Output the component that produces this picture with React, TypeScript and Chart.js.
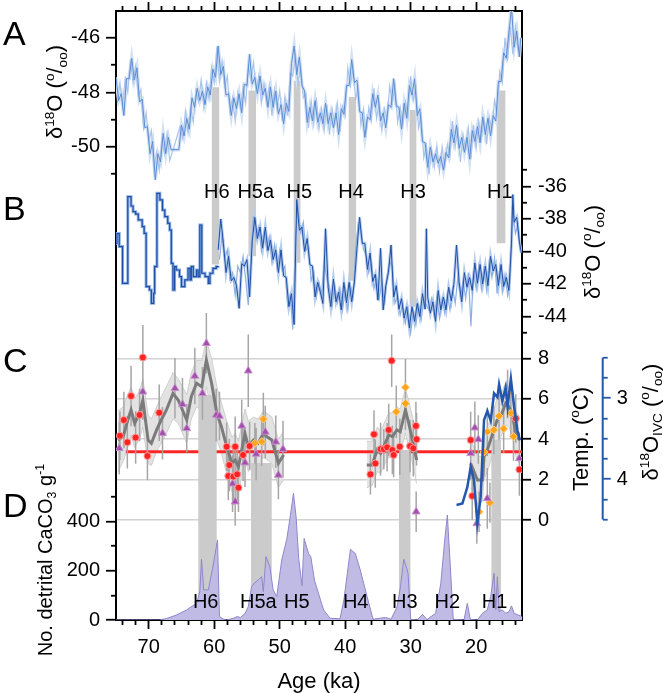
import React, { useEffect, useRef } from "react";
import { Chart, registerables } from "chart.js";

Chart.register(...registerables);

const FONT = "'Liberation Sans', Arial, Helvetica, sans-serif";

// ---------------- DATA ----------------
// Panel A: ice-core δ18O (‰) [age ka, value] — darker trace
const iceA: [number, number][] = [
  [75.0,-47.45],[74.6,-48.3],[74.2,-48.05],[73.8,-48.85],[73.4,-47.5],[73.0,-47.5],[72.6,-46.75],[72.2,-47.55],[71.8,-47.1],[71.4,-48.35],
  [71.0,-48.25],[70.6,-49.3],[70.2,-49.25],[69.8,-50.25],[69.4,-49.8],[69.0,-51.2],[68.6,-50.25],[68.2,-50.55],[67.8,-49.5],[67.4,-50.25],
  [67.0,-49.65],[66.6,-50.1],[65.4,-50.1],[65.0,-49.2],[64.6,-49.6],[64.2,-48.95],[63.8,-49.35],[63.4,-48.2],[63.0,-48.55],[62.6,-47.85],
  [62.2,-48.3],[61.8,-47.95],[61.4,-48.45],[61.0,-47.8],[60.6,-48.1],[60.2,-47.15],[59.8,-47.45],[59.4,-46.3],[59.0,-47.35],[58.6,-47.05],
  [58.2,-48.1],[57.8,-48.05],[57.4,-48.85],[57.0,-48.2],[56.6,-48.6],[56.2,-48.05],[55.8,-48.75],[55.4,-47.7],[55.0,-47.75],[54.6,-46.6],
  [54.2,-47.7],[53.8,-47.45],[53.4,-48.05],[53.0,-47.4],[52.6,-48.1],[52.2,-47.85],[51.8,-48.55],[51.4,-47.8],[51.0,-48.55],[50.6,-47.95],
  [50.2,-48.8],[49.8,-48.45],[49.4,-49.15],[49.0,-48.4],[48.6,-48.7],[48.2,-46.95],[47.8,-46.3],[47.4,-47.35],[47.0,-46.7],[46.6,-47.75],
  [46.2,-47.95],[45.8,-49.1],[45.4,-48.55],[45.0,-49.05],[44.6,-48.3],[44.2,-49.1],[43.8,-48.75],[43.4,-49.15],[43.0,-48.4],[42.6,-49.15],
  [42.2,-48.75],[41.8,-49.3],[41.4,-48.75],[41.0,-49.55],[40.6,-48.6],[40.2,-48.8],[39.8,-47.75],[39.4,-47.75],[39.0,-46.8],[38.6,-47.65],
  [38.2,-47.55],[37.8,-48.7],[37.4,-48.75],[37.0,-49.65],[36.6,-48.9],[36.2,-49.0],[35.8,-48.05],[35.4,-48.55],[35.0,-48.1],[34.6,-49.05],
  [34.2,-48.75],[33.8,-49.3],[33.4,-48.45],[33.0,-48.55],[32.6,-47.5],[32.2,-48.5],[31.8,-48.55],[31.4,-49.35],[31.0,-48.4],[30.6,-48.95],
  [30.2,-47.75],[29.8,-48.1],[29.4,-47.5],[29.0,-48.85],[28.6,-48.6],[28.2,-49.8],[27.8,-49.85],[27.4,-50.75],[27.0,-50.0],[26.6,-50.55],
  [26.2,-50.25],[25.8,-50.6],[25.4,-50.35],[25.0,-50.85],[24.6,-50.2],[24.2,-50.4],[23.8,-49.35],[23.4,-49.85],[23.0,-49.2],[22.6,-50.05],
  [22.2,-49.65],[21.8,-50.2],[21.4,-49.65],[21.0,-50.45],[20.6,-49.4],[20.2,-49.8],[19.8,-49.25],[19.4,-49.85],[19.0,-48.9],[18.6,-49.55],
  [18.2,-48.95],[17.8,-49.6],[17.4,-48.85],[17.0,-49.05],[16.6,-47.6],[16.2,-47.6],[15.8,-46.55],[15.4,-46.75],[15.0,-45.8],[14.6,-44.9],
  [14.2,-46.35],[13.8,-45.75],[13.4,-46.7],[13.2,-46.0],
];
// Panel A: lighter companion trace
const iceALight: [number, number][] = [
  [74.8,-48.4],[74.4,-47.65],[74.0,-48.5],[73.6,-47.5],[73.2,-48.0],[72.8,-46.8],[72.4,-47.65],[72.0,-47.05],[71.6,-48.15],[71.2,-47.9],
  [70.8,-49.3],[70.4,-48.75],[70.0,-49.8],[69.6,-49.4],[69.2,-50.8],[68.8,-50.2],[68.4,-50.85],[68.0,-49.75],[67.6,-50.25],[67.2,-49.5],
  [66.8,-50.5],[65.2,-49.25],[64.8,-49.7],[64.4,-48.7],[64.0,-49.5],[63.6,-48.55],[63.2,-49.1],[62.8,-47.95],[62.4,-48.35],[62.0,-47.55],
  [61.6,-48.55],[61.2,-47.65],[60.8,-48.25],[60.4,-47.1],[60.0,-47.65],[59.6,-46.35],[59.2,-47.6],[58.8,-46.85],[58.4,-47.8],[58.0,-47.4],
  [57.6,-48.7],[57.2,-48.2],[56.8,-49.05],[56.4,-48.0],[56.0,-48.6],[55.6,-47.8],[55.2,-48.4],[54.8,-47.0],[54.4,-47.55],[54.0,-46.9],
  [53.6,-48.0],[53.2,-47.4],[52.8,-48.4],[52.4,-47.65],[52.0,-48.4],[51.6,-47.75],[51.2,-48.85],[50.8,-47.9],[50.4,-48.6],[50.0,-47.95],
  [49.6,-49.05],[49.2,-48.15],[48.8,-48.85],[48.4,-47.3],[48.0,-47.4],[47.6,-46.6],[47.2,-47.65],[46.8,-47.05],[46.4,-48.2],[46.0,-48.05],
  [45.6,-49.3],[45.2,-48.3],[44.8,-49.15],[44.4,-48.2],[44.0,-49.35],[43.6,-48.6],[43.2,-49.4],[42.8,-48.45],[42.4,-49.55],[42.0,-48.6],
  [41.6,-49.15],[41.2,-48.4],[40.8,-49.45],[40.4,-48.5],[40.0,-48.85],[39.6,-47.1],[39.2,-47.75],[38.8,-47.1],[38.4,-48.25],[38.0,-47.8],
  [37.6,-49.2],[37.2,-48.6],[36.8,-49.5],[36.4,-48.55],[36.0,-49.05],[35.6,-47.85],[35.2,-48.95],[34.8,-48.4],[34.4,-49.4],[34.0,-48.6],
  [33.6,-49.0],[33.2,-47.75],[32.8,-48.4],[32.4,-47.75],[32.0,-49.1],[31.6,-48.55],[31.2,-49.2],[30.8,-48.35],[30.4,-48.9],[30.0,-47.4],
  [29.6,-48.3],[29.2,-47.8],[28.8,-49.3],[28.4,-48.85],[28.0,-50.4],[27.6,-49.95],[27.2,-51.0],[26.8,-50.1],[26.4,-50.75],[26.0,-49.95],
  [25.6,-50.9],[25.2,-50.0],[24.8,-50.75],[24.4,-49.9],[24.0,-50.35],[23.6,-49.05],[23.2,-50.0],[22.8,-49.3],[22.4,-50.55],[22.0,-49.55],
  [21.6,-50.1],[21.2,-49.3],[20.8,-50.45],[20.4,-49.2],[20.0,-50.05],[19.6,-49.05],[19.2,-49.7],[18.8,-48.95],[18.4,-49.9],[18.0,-48.9],
  [17.6,-49.4],[17.2,-48.3],[16.8,-48.8],[16.4,-47.25],[16.0,-47.65],[15.6,-46.0],[15.2,-46.85],[14.8,-45.6],[14.4,-46.6],[14.0,-45.6],
  [13.6,-46.5],
];

// Panel B: low-resolution (stepped) part and high-resolution parts [age ka, δ18O ‰]
const iceBStep: [number, number][] = [
  [75.0,-39.5],[74.85,-38.9],[74.5,-39.7],[74.0,-41.96],[73.2,-36.63],[72.7,-37.2],[72.4,-37.55],[72.0,-37.7],[71.6,-38.06],[71.0,-38.47],
  [70.7,-38.88],[70.4,-42.16],[69.9,-42.37],[69.6,-43.19],[69.25,-42.57],[69.1,-40.93],[68.75,-36.42],[68.3,-36.83],[67.9,-37.45],[67.55,-37.86],
  [67.1,-38.27],[66.8,-38.68],[66.55,-40.73],[66.3,-42.37],[66.05,-40.93],[65.8,-41.14],[65.3,-41.55],[65.0,-42.16],[64.5,-41.75],[64.0,-41.04],
  [63.7,-41.75],[63.5,-40.93],[63.2,-41.55],[62.7,-41.14],[62.45,-41.55],[62.2,-38.37],[61.9,-41.34],[61.4,-41.55],[60.9,-41.96],[60.65,-41.34],
  [60.2,-41.04],[59.7,-40.93],[59.4,-40.9],
];
const iceB: [number, number][] = [
  [59.4,-39.9],[59.0,-38.0],[58.6,-39.5],[58.2,-41.3],[57.8,-40.3],[57.4,-41.8],[57.0,-41.6],[56.6,-42.1],[56.2,-43.5],[55.8,-40.75],
  [55.4,-40.9],[55.0,-40.5],[54.6,-42.8],[54.2,-39.4],[53.8,-37.9],[53.4,-39.2],[53.0,-38.5],[52.6,-39.8],[52.2,-38.5],[51.8,-39.95],
  [51.4,-39.3],[51.0,-40.5],[50.6,-39.9],[50.2,-41.3],[49.8,-39.9],[49.4,-41.5],[49.0,-41.6],[48.6,-43.4],[48.2,-42.6],[47.8,-44.5],
  [47.4,-36.8],[47.0,-38.7],[46.6,-38.5],[46.2,-40.0],[45.8,-39.2],[45.4,-40.8],[45.0,-40.9],[44.6,-42.8],[44.2,-41.9],[43.8,-42.5],
  [43.4,-43.2],[43.0,-38.6],[42.6,-42.2],[42.2,-43.4],[41.8,-41.7],[41.4,-43.1],[41.0,-42.5],[40.6,-43.6],[40.2,-41.9],[39.8,-43.15],
  [39.4,-41.9],[39.0,-43.1],[38.6,-41.9],[38.2,-39.8],[37.8,-37.9],[37.4,-39.5],[37.0,-39.5],[36.6,-41.1],[36.2,-40.1],[35.8,-41.85],
  [35.4,-41.4],[35.0,-43.0],[34.6,-39.8],[34.2,-43.6],[33.8,-42.1],[33.4,-41.3],[33.0,-39.6],[32.6,-42.8],[32.2,-42.1],[31.8,-43.55],
  [31.4,-42.9],[31.0,-44.1],[30.6,-43.4],[30.2,-44.7],[29.8,-43.4],[29.4,-44.3],[29.0,-43.2],[28.6,-44.0],[28.2,-42.6],[27.8,-43.55],
  [27.6,-38.6],[27.4,-42.8],[27.0,-43.8],[26.6,-43.1],[26.2,-44.3],[25.8,-42.4],[25.4,-43.6],[25.0,-42.8],[24.6,-43.6],[24.2,-42.2],
  [23.8,-43.05],[23.4,-42.0],[23.0,-39.6],[22.6,-41.9],[22.2,-43.1],[21.8,-41.3],[21.4,-42.2],[21.0,-41.6],[20.6,-42.4],[20.2,-40.7],
  [19.8,-41.95],[19.4,-40.8],[19.0,-42.0],[18.6,-40.9],[18.2,-42.1],[17.8,-40.3],[17.4,-41.2],[17.0,-40.8],[16.6,-42.1],[16.2,-40.8],
  [15.8,-42.15],[15.4,-41.6],[15.0,-42.4],[14.6,-39.5],[14.4,-36.5],[14.2,-38.2],[13.8,-37.9],[13.4,-39.4],[13.1,-40.1],
];
const iceBLight: [number, number][] = [
  [59.2,-40.5],[58.8,-39.0],[58.4,-40.5],[58.0,-39.9],[57.6,-41.7],[57.2,-41.3],[56.8,-42.7],[56.4,-40.9],[56.0,-41.3],[55.6,-40.3],
  [55.2,-41.7],[54.8,-43.3],[54.4,-40.3],[54.0,-37.8],[53.6,-39.25],[53.2,-38.5],[52.8,-39.95],[52.4,-38.8],[52.0,-39.85],[51.6,-39.1],
  [51.2,-40.65],[50.8,-39.6],[50.4,-41.05],[50.0,-39.95],[49.6,-41.2],[49.2,-40.9],[48.8,-43.3],[48.4,-42.65],[48.0,-44.8],[47.6,-39.0],
  [47.2,-37.3],[46.8,-38.8],[46.4,-38.2],[46.0,-39.95],[45.6,-39.7],[45.2,-41.8],[44.8,-41.25],[44.4,-42.8],[44.0,-41.9],[43.6,-42.6],
  [43.2,-40.6],[42.8,-41.7],[42.4,-42.15],[42.0,-43.4],[41.6,-42.1],[41.2,-43.15],[40.8,-42.25],[40.4,-43.6],[40.0,-42.35],[39.6,-43.6],
  [39.2,-42.05],[38.8,-42.8],[38.4,-39.8],[38.0,-38.3],[37.6,-38.8],[37.2,-39.9],[36.8,-40.2],[36.4,-41.3],[36.0,-40.6],[35.6,-42.3],
  [35.2,-41.6],[34.8,-42.9],[34.4,-41.8],[34.0,-43.3],[33.6,-41.5],[33.2,-40.6],[32.8,-40.9],[32.4,-43.2],[32.0,-42.7],[31.6,-43.9],
  [31.2,-43.2],[30.8,-44.4],[30.4,-43.5],[30.0,-45.0],[29.6,-43.7],[29.2,-44.5],[28.8,-43.3],[28.4,-44.2],[28.0,-43.0],[27.2,-43.6],
  [26.8,-42.9],[26.4,-44.0],[26.0,-42.8],[25.6,-44.1],[25.2,-42.9],[24.8,-43.8],[24.4,-42.6],[24.0,-43.6],[23.6,-42.3],[23.2,-43.2],
  [22.8,-41.6],[22.4,-42.8],[22.0,-41.8],[21.6,-42.9],[21.2,-41.3],[20.8,-44.6],[20.4,-41.2],[20.0,-42.3],[19.6,-40.9],[19.2,-42.3],
  [18.8,-41.0],[18.4,-42.4],[18.0,-40.6],[17.6,-41.6],[17.2,-40.4],[16.8,-42.6],[16.4,-41.0],[16.0,-42.5],[15.6,-41.4],[15.2,-42.7],
  [14.8,-41.8],[14.5,-37.2],[14.3,-37.8],[14.0,-38.9],[13.6,-38.3],[13.3,-39.9],
];

// Panel C: temperature stack [age ka, mean °C, lower, upper]
const tempLeft: [number, number, number, number][] = [
  [74.7,3.96,2.4,5.4],[73.9,4.13,2.9,5.6],[73.2,4.95,3.6,6.2],[72.7,5.45,4.2,6.6],[72.15,4.79,3.6,6.0],[71.4,5.28,4.0,6.4],
  [70.9,5.94,4.6,7.0],[70.1,3.96,2.8,5.2],[69.6,3.8,2.7,5.0],[68.8,4.46,3.4,5.6],[68.1,4.95,3.8,6.1],[67.3,5.45,4.3,6.6],
  [66.3,6.27,5.0,7.3],[65.5,5.94,4.8,7.0],[64.2,4.95,3.8,6.2],[63.5,6.11,5.0,7.3],[62.7,6.77,5.6,7.9],[61.9,6.6,5.5,7.9],
  [61.2,7.92,6.6,8.9],[60.4,6.77,5.4,8.0],[59.6,5.28,4.0,6.6],[58.9,4.62,3.3,5.8],[58.1,3.63,2.3,4.9],[57.3,2.81,1.4,4.1],
  [56.8,2.97,1.5,4.3],[56.3,2.64,1.3,3.9],[55.8,3.47,2.2,4.7],[55.3,4.29,3.0,5.5],[54.8,3.63,2.4,4.9],[54.0,3.96,2.8,5.1],
  [53.3,3.8,2.7,5.0],[52.5,4.29,3.1,5.4],[52.0,4.13,3.0,5.3],[51.2,3.96,2.8,5.1],[50.2,2.81,1.6,4.0],[49.4,3.22,2.0,4.4],
];
const tempMid: [number, number, number, number][] = [
  [36.7,2.72,1.6,3.9],[35.9,2.72,1.7,3.9],[35.1,3.47,2.4,4.6],[34.6,3.3,2.3,4.4],[33.9,3.8,2.8,4.9],[33.35,4.21,3.1,5.3],
  [32.8,4.13,3.1,5.3],[32.1,4.46,3.4,5.6],[31.6,4.37,3.3,5.5],[30.8,5.45,4.3,6.5],[30.3,4.79,3.6,5.9],[29.5,3.63,2.5,4.8],
  [29.1,2.97,1.8,4.2],
];
const tempRight: [number, number, number, number][] = [
  [20.85,2.81,1.6,4.0],[19.8,1.98,0.8,3.2],[19.05,1.98,0.9,3.1],[18.8,3.14,2.0,4.3],[18.3,3.47,2.4,4.6],[17.8,3.96,2.9,5.0],
  [17.3,4.46,3.4,5.5],[16.8,4.95,3.9,6.0],[16.25,5.12,4.1,6.2],[15.5,5.78,4.7,6.8],[15.0,5.61,4.6,6.6],[14.5,5.28,4.2,6.4],
  [13.95,4.29,3.2,5.4],[13.4,3.96,2.8,5.1],
];

// Panel C: individual temperature estimates [age ka, °C, ±error]
const redPts: [number, number, number][] = [
  [74.4,4.17,1.2],[73.8,4.95,1.4],[73.27,3.85,1.3],[72.7,6.14,1.5],[72.0,4.08,1.3],[71.4,5.2,1.3],[70.9,8.05,1.6],[70.2,3.17,1.2],
  [68.4,5.31,1.4],[58.1,3.63,1.2],[56.8,3.63,1.5],[57.7,2.72,1.3],[57.85,2.18,1.2],[57.09,2.15,1.4],[56.5,2.26,1.3],[56.3,1.6,1.2],
  [55.6,3.22,1.3],[54.6,3.66,1.2],[32.9,7.89,1.3],[36.15,2.26,1.0],[35.4,2.8,1.2],[35.6,4.24,1.2],[34.6,3.51,1.3],[34.1,3.51,1.0],
  [33.6,3.6,1.2],[33.35,4.46,1.3],[32.8,3.47,1.2],[32.6,3.22,1.1],[31.66,3.63,1.4],[30.1,3.66,1.3],[29.6,3.55,1.4],[29.2,4.66,1.2],
  [29.1,4.0,1.3],[20.84,3.96,1.4],[20.6,1.19,1.2],[13.4,2.5,1.3],[13.95,5.03,1.2],
];
const purplePts: [number, number, number][] = [
  [74.5,3.55,1.3],[70.9,6.35,1.4],[67.9,4.3,1.3],[66.0,6.52,1.5],[64.85,5.73,1.3],[64.2,4.54,1.2],[62.96,7.13,1.4],[61.8,6.27,1.3],
  [61.2,8.75,1.5],[59.7,5.2,1.3],[59.2,5.15,1.2],[57.2,1.8,1.4],[56.8,0.91,1.2],[55.8,4.66,1.3],[54.8,7.39,1.8],[55.3,2.84,1.2],
  [53.6,3.27,1.3],[52.2,4.36,1.3],[50.6,3.87,1.3],[50.2,2.23,1.2],[49.5,3.51,1.4],[29.16,0.41,1.0],[20.84,3.3,1.3],[20.2,4.57,1.3],
  [19.67,3.99,1.2],[18.3,1.07,1.5],[13.4,3.05,1.3],[19.9,-0.17,1.0],
];
const orangePts: [number, number, number][] = [
  [52.5,5.0,1.3],[52.75,3.88,1.2],[53.8,3.8,1.0],[32.2,5.36,1.3],[30.8,6.57,1.4],[30.8,5.77,1.3],[19.56,0.41,1.0],[17.9,0.86,1.0],
  [18.3,4.37,1.2],[17.3,4.46,1.2],[16.5,5.15,1.2],[15.8,4.52,1.2],[15.2,6.24,1.2],[14.7,5.28,1.2],[14.3,4.13,1.2],[18.8,3.37,1.2],
];
const thresholdT = 3.38;
const thresholdAges = [73.5, 13];

// Panel C: δ18O IVC (‰, reversed axis) [age ka, value]
const ivc: [number, number][] = [
  [23.0,4.32],[22.1,4.3],[21.35,4.1],[20.84,3.85],[20.33,4.01],[19.82,4.55],[19.31,4.22],[18.8,3.27],[18.29,3.16],[17.78,3.28],
  [17.27,2.94],[16.76,2.99],[16.5,2.83],[16.0,3.04],[15.5,2.87],[15.2,3.11],[14.7,2.76],[14.2,3.11],[13.7,3.4],[13.3,3.52],
];

// Panel D: number of detrital CaCO3 grains per g [age ka, count]
const detrital: [number, number][] = [
  [75,0],[70,0],[68.3,0],[67.3,6],[65.8,20],[64.2,41],[62.7,68],[62.2,115],[61.94,246],[61.6,122],[60.9,122],[60.15,223],[59.5,325],
  [59.2,14],[58.6,4],[58.1,0],[57.1,7],[56.5,14],[56.0,10],[55.3,27],[54.8,54],[54.3,135],[53.9,149],[53.3,162],[52.75,176],[52.5,115],
  [52.1,257],[51.5,216],[51.0,122],[50.45,95],[49.7,243],[48.9,331],[48.4,419],[47.9,514],[47.5,419],[47.1,250],[46.6,139],[46.27,331],
  [45.6,270],[45.25,257],[44.7,162],[43.3,41],[42.3,7],[40.8,5],[40.2,81],[39.2,287],[38.45,270],[37.7,203],[36.66,95],[35.75,3],
  [34.5,8],[33.8,10],[33.0,3],[32.07,54],[31.56,135],[31.05,246],[30.6,210],[30.4,189],[30.0,3],[29.0,0],[28.2,23],[27.5,2],[26.2,27],
  [25.4,149],[24.8,325],[24.4,426],[24.0,243],[23.5,3],[21.86,0],[21.35,68],[20.9,2],[19.8,0],[19.05,27],[18.3,41],[17.78,95],
  [17.27,189],[17.0,41],[16.76,176],[16.5,34],[16.0,41],[15.48,27],[14.97,34],[14.6,57],[14.2,27],[13.0,14],
];

// Heinrich events: shaded columns [name, older ka, younger ka, top, bottom] (B axis units for A/B, count units for C/D)
const heinrichAB: [string, number, number, number, number][] = [
  ["H6",60.4,59.2,-29.9,-40.8],["H5a",54.8,53.6,-30.1,-40.3],["H5",47.9,46.8,-29.5,-40.7],
  ["H4",39.5,38.3,-30.5,-41.8],["H3",30.2,29.1,-31.3,-43.4],["H1",16.9,15.5,-30.1,-39.5],
];
const heinrichCD: [string, number, number, number][] = [
  ["H6",62.45,59.6,913],["H5a",54.4,51.2,637],["H3",31.8,30.0,690],["H1",17.7,16.2,730],
];
const labelsAB: [string, number][] = [["H6",59.6],["H5a",53.66],["H5",47.0],["H4",39.1],["H3",29.65],["H1",16.4]];
const labelsD: [string, number][] = [["H6",61.3],["H5a",53.26],["H5",47.4],["H4",38.4],["H3",30.9],["H2",24.4],["H1",17.2]];

// Axis ticks
const xMajor = [70, 60, 50, 40, 30, 20];
const xMinor = [74, 72, 68, 66, 64, 62, 58, 56, 54, 52, 48, 46, 44, 42, 38, 36, 34, 32, 28, 26, 24, 22, 18, 16, 14];
const aMajor = [-46, -48, -50];
const aMinor = [-47, -49, -51];
const bMajor = [-36, -38, -40, -42, -44];
const bMinor = [-35, -37, -39, -41, -43, -45];
const tMajor = [0, 2, 4, 6, 8];
const ivcMajor = [3, 4];
const ivcMinor = [2.5, 2.75, 3.25, 3.5, 3.75, 4.25, 4.5];
const dMajor = [0, 200, 400];
const dMinor = [100, 300, 500];

// ---------------- STYLE ----------------
const A_HALO = "#d3e1f5";
const A_LIGHT = "#a9c4ec";
const A_MAIN = "#5b8dd3";
const B_LIGHT = "#8cb0e2";
const B_DARK = "#1f4ea6";
const COL_GREY = "#cbcbcb";
const IVC_BLUE = "#2457ad";

const xy = (arr: [number, number][]) => arr.map(([x, y]) => ({ x, y }));

function buildDatasets() {
  const ds: any[] = [];
  const line = (o: any) => ({
    pointRadius: 0, pointHoverRadius: 0, tension: 0, fill: false, xAxisID: "x", spanGaps: false, ...o,
  });
  heinrichAB.forEach(([name, a0, a1, top, bot]) =>
    ds.push(line({ label: "colAB " + name, yAxisID: "yB", data: [{ x: a0, y: top }, { x: a1, y: top }],
      fill: { value: bot }, backgroundColor: COL_GREY, borderColor: "rgba(0,0,0,0)", borderWidth: 0, order: 6 })));
  heinrichCD.forEach(([name, a0, a1, top]) =>
    ds.push(line({ label: "colCD " + name, yAxisID: "yD", data: [{ x: a0, y: top }, { x: a1, y: top }],
      fill: { value: 0 }, backgroundColor: COL_GREY, borderColor: "rgba(0,0,0,0)", borderWidth: 0, order: 6 })));
  // A
  ds.push(line({ label: "A halo", yAxisID: "yA", data: xy(iceA), borderColor: A_HALO, borderWidth: 3.5, order: 5.4 }));
  ds.push(line({ label: "A light", yAxisID: "yA", data: xy(iceALight), borderColor: A_LIGHT, borderWidth: 1.2, order: 5.3 }));
  ds.push(line({ label: "A", yAxisID: "yA", data: xy(iceA), borderColor: A_MAIN, borderWidth: 1, order: 5.1 }));
  // B
  ds.push(line({ label: "B step light", yAxisID: "yB", data: xy(iceBStep), stepped: true, borderColor: B_LIGHT, borderWidth: 3, order: 5.3 }));
  ds.push(line({ label: "B step", yAxisID: "yB", data: xy(iceBStep), stepped: true, borderColor: B_DARK, borderWidth: 1.2, order: 5.1 }));
  ds.push(line({ label: "B halo", yAxisID: "yB", data: xy(iceB), borderColor: "#b7cdee", borderWidth: 3, order: 5.4 }));
  ds.push(line({ label: "B light", yAxisID: "yB", data: xy(iceBLight), borderColor: B_LIGHT, borderWidth: 1.2, order: 5.3 }));
  ds.push(line({ label: "B", yAxisID: "yB", data: xy(iceB), borderColor: B_DARK, borderWidth: 1, order: 5.1 }));
  // C band
  [tempLeft, tempMid, tempRight].forEach((c, i) => {
    ds.push(line({ label: "band lo " + i, yAxisID: "yT", data: c.map(([a, , lo]) => ({ x: a, y: lo })),
      borderColor: "#c6c6c6", borderWidth: 0.8, order: 8 }));
    ds.push(line({ label: "band hi " + i, yAxisID: "yT", data: c.map(([a, , , hi]) => ({ x: a, y: hi })),
      borderColor: "#c6c6c6", borderWidth: 0.8, fill: "-1", backgroundColor: "#e3e3e3", order: 8 }));
  });
  ds.push(line({ label: "threshold", yAxisID: "yT", data: thresholdAges.map((a) => ({ x: a, y: thresholdT })),
    borderColor: "#ff2626", borderWidth: 3, order: 7 }));
  // D
  ds.push(line({ label: "detrital", yAxisID: "yD", data: xy(detrital), fill: "origin",
    backgroundColor: "#c0bbe5", borderColor: "#8d87cb", borderWidth: 1, order: 5 }));
  // error bars
  const allPts = [...redPts, ...purplePts, ...orangePts];
  ds.push(line({ label: "errors", yAxisID: "yT",
    data: allPts.flatMap(([a, t, e]) => [{ x: a, y: t - e }, { x: a, y: t + e }, { x: a, y: null }]),
    borderColor: "#a6a6a6", borderWidth: 1.5, order: 4 }));
  // means
  [tempLeft, tempMid, tempRight].forEach((c, i) =>
    ds.push(line({ label: "mean " + i, yAxisID: "yT", data: c.map(([a, m]) => ({ x: a, y: m })),
      borderColor: "#7b7b7b", borderWidth: 3, order: 3 })));
  // points
  const pts = (label: string, arr: [number, number, number][], style: string, r: number, bg: string, bd: string) =>
    ds.push({ label, type: "line", xAxisID: "x", yAxisID: "yT", data: arr.map(([a, t]) => ({ x: a, y: t })), showLine: false,
      pointStyle: style, pointRadius: r, pointHoverRadius: r, backgroundColor: bg, borderColor: bd, pointBorderWidth: 1, order: 2 });
  pts("red", redPts, "circle", 3.5, "#ff2222", "#ff9c9c");
  pts("purple", purplePts, "triangle", 4.5, "#a24fab", "#c98fce");
  pts("orange", orangePts, "rectRot", 4, "#ffa41c", "#ffcc77");
  // IVC
  ds.push(line({ label: "IVC", yAxisID: "yI", data: xy(ivc), borderColor: IVC_BLUE, borderWidth: 2.5, order: 1 }));
  return ds;
}

// ---------------- AXES ----------------
const noPad = (s: any) => { s.paddingTop = 0; s.paddingBottom = 0; s.paddingLeft = 0; s.paddingRight = 0; };
const fitW = (w: number) => (s: any) => { s.width = w; noPad(s); };
const fitH = (s: any) => { s.height = 0; noPad(s); };
const setTicks = (vals: number[]) => (s: any) => { s.ticks = vals.map((value) => ({ value })); };
const tickFont = { family: FONT, size: 20 };

function yAxis(o: any) {
  return {
    type: "linear", axis: "y", position: o.pos, min: o.min, max: o.max, reverse: !!o.reverse, bounds: "data",
    weight: o.weight || 0,
    afterBuildTicks: setTicks(o.ticks), afterFit: fitW(o.width || 0),
    grid: { display: true, drawOnChartArea: !!o.grid, color: o.grid || "rgba(0,0,0,0)", lineWidth: 1.5,
      drawTicks: true, tickLength: o.len, tickWidth: 1.8, tickColor: o.tickColor || "#000" },
    border: { display: !!o.border, color: "#000", width: 2 },
    ticks: { display: !!o.labels, autoSkip: false, padding: o.pad || 0, color: "#000", font: tickFont,
      callback: (v: any) => String(v) },
  };
}
function xAxis(o: any) {
  return {
    type: "linear", axis: "x", position: o.pos, min: 13, max: 75, reverse: true, bounds: "data",
    afterBuildTicks: setTicks(o.ticks), afterFit: fitH,
    grid: { display: true, drawOnChartArea: false, drawTicks: true, tickLength: o.len, tickWidth: 1.8, tickColor: "#000" },
    border: { display: !!o.border, color: "#000", width: 2 },
    ticks: { display: !!o.labels, autoSkip: false, maxRotation: 0, padding: 6, color: "#000", font: tickFont,
      callback: (v: any) => String(v) },
  };
}

// Give zero-width axes room for their labels after layout (axes share spines, so they overlap).
const boxPlugin = {
  id: "boxes",
  afterLayout(chart: any) {
    const s = chart.scales;
    ["yA", "yAm", "yD", "yDm"].forEach((id) => { s[id].left = s[id].right - 116; });
    ["yT", "yBm"].forEach((id) => { s[id].right = s[id].left + 80; });
    ["yI", "yIm"].forEach((id) => { s[id].right = s[id].left + 60; });
    ["x", "xMinor"].forEach((id) => { s[id].bottom = s[id].top + 73; });
    ["xTop", "xTopMinor"].forEach((id) => { s[id].top = s[id].bottom - 11; });
  },
};

// ---------------- TEXT PLUGIN ----------------
type Seg = [string, number]; // 0 normal, 1 superscript, -1 subscript
function drawRich(ctx: CanvasRenderingContext2D, segs: Seg[], cx: number, cy: number, size: number, rot: boolean) {
  ctx.save();
  ctx.translate(cx, cy);
  if (rot) ctx.rotate(-Math.PI / 2);
  const small = size * 0.62;
  const fN = `${size}px ${FONT}`;
  const fS = `${small}px ${FONT}`;
  let w = 0;
  for (const [t, k] of segs) { ctx.font = k ? fS : fN; w += ctx.measureText(t).width; }
  let x = -w / 2;
  const base = size * 0.36;
  ctx.textAlign = "left";
  ctx.textBaseline = "alphabetic";
  ctx.fillStyle = "#000";
  for (const [t, k] of segs) {
    ctx.font = k ? fS : fN;
    const dy = k === 1 ? -size * 0.4 : k === -1 ? size * 0.2 : 0;
    ctx.fillText(t, x, base + dy);
    x += ctx.measureText(t).width;
  }
  ctx.restore();
}
const permil: Seg[] = [[" (", 0], ["o", 1], ["/", 0], ["oo", -1], [")", 0]];
const d18O: Seg[] = [["δ", 0], ["18", 1], ["O", 0]];

const annotPlugin = {
  id: "annot",
  afterDraw(chart: any) {
    const { ctx, scales } = chart;
    ctx.save();
    const yI = scales.yI;
    ctx.strokeStyle = IVC_BLUE;
    ctx.lineWidth = 2;
    ctx.beginPath();
    ctx.moveTo(yI.left, yI.getPixelForValue(2.5));
    ctx.lineTo(yI.left, yI.getPixelForValue(4.5));
    ctx.stroke();
    ctx.fillStyle = "#000";
    ctx.font = `34px ${FONT}`;
    ctx.textAlign = "left";
    ctx.textBaseline = "alphabetic";
    ctx.fillText("A", 3, 45);
    ctx.fillText("B", 3, 220);
    ctx.fillText("C", 3, 372);
    ctx.fillText("D", 3, 517);
    ctx.font = `20px ${FONT}`;
    ctx.textAlign = "center";
    ctx.textBaseline = "middle";
    const yAB = scales.yB.getPixelForValue(-36.34);
    labelsAB.forEach(([t, a]) => ctx.fillText(t, scales.x.getPixelForValue(a), yAB));
    const yDl = scales.yD.getPixelForValue(71);
    labelsD.forEach(([t, a]) => ctx.fillText(t, scales.x.getPixelForValue(a), yDl));
    ctx.restore();
    drawRich(ctx, [...d18O, ...permil], 54.5, 92, 22, true);
    drawRich(ctx, [...d18O, ...permil], 592, 252, 22, true);
    drawRich(ctx, [["Temp. (", 0], ["o", 1], ["C)", 0]], 580, 439, 22, true);
    drawRich(ctx, [...d18O, ["IVC", -1], ...permil], 650, 422, 22, true);
    drawRich(ctx, [["No. detrital CaCO", 0], ["3", -1], [" g", 0], ["-1", 1]], 45, 560, 20, true);
    drawRich(ctx, [["Age (ka)", 0]], 319, 680, 22, false);
  },
};

export default function App() {
  const ref = useRef<HTMLCanvasElement>(null);
  useEffect(() => {
    if (!ref.current) return;
    const chart = new Chart(ref.current, {
      type: "line",
      data: { datasets: buildDatasets() },
      options: {
        animation: false,
        responsive: false,
        maintainAspectRatio: false,
        events: [],
        layout: { padding: { left: 116, right: 60.3, top: 11, bottom: 73 } },
        plugins: { legend: { display: false }, tooltip: { enabled: false } },
        scales: {
          x: xAxis({ pos: "bottom", ticks: xMajor, len: 9, labels: true, border: true }),
          xMinor: xAxis({ pos: "bottom", ticks: xMinor, len: 5 }),
          xTop: xAxis({ pos: "top", ticks: xMajor, len: 9, border: true }),
          xTopMinor: xAxis({ pos: "top", ticks: xMinor, len: 5 }),
          yA: yAxis({ pos: "left", min: -67.33, max: -45.02, ticks: aMajor, len: 10, labels: true, pad: 6, border: true }),
          yAm: yAxis({ pos: "left", min: -67.33, max: -45.02, ticks: aMinor, len: 5 }),
          yD: yAxis({ pos: "left", min: 0, max: 2471, ticks: dMajor, len: 10, labels: true, pad: 6 }),
          yDm: yAxis({ pos: "left", min: 0, max: 2471, ticks: dMinor, len: 5 }),
          yT: yAxis({ pos: "right", weight: 0, min: -4.95, max: 25.2, ticks: tMajor, len: 9, labels: true, pad: 7, grid: "#d2d2d2" }),
          yBm: yAxis({ pos: "right", weight: 0, min: -62.68, max: -25.2, ticks: bMinor, len: 5 }),
          yB: yAxis({ pos: "right", weight: 1, width: 80.7, min: -62.68, max: -25.2, ticks: bMajor, len: 9, labels: true, pad: 7, border: true }),
          yI: yAxis({ pos: "right", weight: 2, reverse: true, min: -1.78, max: 5.74, ticks: ivcMajor, len: 8, labels: true, pad: 6, tickColor: IVC_BLUE }),
          yIm: yAxis({ pos: "right", weight: 2, reverse: true, min: -1.78, max: 5.74, ticks: ivcMinor, len: 5, tickColor: IVC_BLUE }),
        },
      } as any,
      plugins: [boxPlugin, annotPlugin],
    });
    return () => chart.destroy();
  }, []);
  return (
    <div style={{ position: "absolute", left: 0, top: 0, width: 663, height: 693, background: "#fff" }}>
      <canvas ref={ref} width={663} height={693} style={{ display: "block", width: 663, height: 693 }} />
    </div>
  );
}
